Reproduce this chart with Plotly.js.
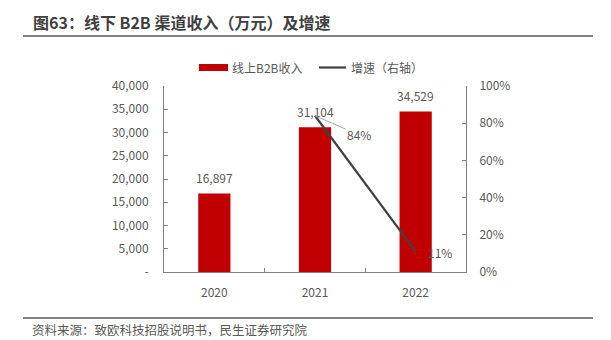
<!DOCTYPE html>
<html>
<head>
<meta charset="utf-8">
<script src="https://cdn.plot.ly/plotly-3.0.1.min.js"></script>
<style>html,body{margin:0;padding:0;background:#fff;}#chart{width:611px;height:340px;}</style>
</head>
<body>
<div id="chart"></div>
<script>
// ---- data ----
const years = ['2020', '2021', '2022'];
const revenue = [16897, 31104, 34529];          // 线上B2B收入 (万元)
const growth = [null, 0.84, 0.11];               // 增速 (右轴)
const leftTicks = [0, 5000, 10000, 15000, 20000, 25000, 30000, 35000, 40000];
const leftTickText = ['-', '5,000', '10,000', '15,000', '20,000', '25,000', '30,000', '35,000', '40,000'];
const titleText = '图63：线下 B2B 渠道收入（万元）及增速';
const sourceText = '资料来源：致欧科技招股说明书，民生证券研究院';
const barName = '线上B2B收入';
const lineName = '增速（右轴）';

// ---- layout helpers ----
const W = 611, H = 340;
const L = 164, R = 466, T = 86, B = 272;
const px2x = p => (p - L) / (R - L);
const px2y = p => (B - p) / (B - T);
const FONT = '"Noto Sans CJK SC", "Noto Sans", sans-serif';
const TXT = '#595959';

const fmt = v => v.toLocaleString('en-US');

const traces = [
  {
    type: 'bar', x: years, y: revenue, name: barName,
    marker: {color: '#C00000'}, width: 0.32, showlegend: false, hoverinfo: 'skip'
  },
  {
    type: 'scatter', mode: 'lines', x: years, y: growth, yaxis: 'y2', name: lineName,
    line: {color: '#404040', width: 2.2}, showlegend: false, hoverinfo: 'skip'
  }
];

const annotations = [];
// bar value labels (category axis -> serial index)
years.forEach((yr, i) => {
  annotations.push({
    x: i, y: revenue[i], xref: 'x', yref: 'y', text: fmt(revenue[i]),
    showarrow: false, yanchor: 'middle', yshift: 16,
    font: {family: FONT, size: 12, color: TXT}
  });
});
// growth labels
annotations.push({
  x: 1, y: growth[1], xref: 'x', yref: 'y2', text: Math.round(growth[1] * 100) + '%',
  showarrow: true, arrowhead: 0, arrowwidth: 1, arrowcolor: '#a6a6a6',
  ax: 44, ay: 19, standoff: 0,
  font: {family: FONT, size: 12, color: TXT}
});
annotations.push({
  x: 2, y: growth[2], xref: 'x', yref: 'y2', text: Math.round(growth[2] * 100) + '%',
  showarrow: false, xshift: 24, yshift: -1,
  font: {family: FONT, size: 12, color: TXT}
});
// title
annotations.push({
  xref: 'paper', yref: 'paper', x: px2x(31), y: px2y(22), xanchor: 'left', yanchor: 'middle',
  text: '<b>' + titleText + '</b>', showarrow: false,
  font: {family: FONT, size: 16, color: '#3f3f3f'}
});
// source
annotations.push({
  xref: 'paper', yref: 'paper', x: px2x(30), y: px2y(329), xanchor: 'left', yanchor: 'middle',
  text: sourceText, showarrow: false,
  font: {family: FONT, size: 12.5, color: TXT}
});
// legend texts
annotations.push({
  xref: 'paper', yref: 'paper', x: px2x(230), y: px2y(67.5), xanchor: 'left', yanchor: 'middle',
  text: barName, showarrow: false, font: {family: FONT, size: 12, color: TXT}
});
annotations.push({
  xref: 'paper', yref: 'paper', x: px2x(349), y: px2y(67.5), xanchor: 'left', yanchor: 'middle',
  text: lineName, showarrow: false, font: {family: FONT, size: 12, color: TXT}
});

const shapes = [
  // title rule
  {type: 'line', xref: 'paper', yref: 'paper', x0: px2x(23), x1: px2x(593), y0: px2y(36), y1: px2y(36),
   line: {color: '#595959', width: 1.5}},
  // source rule
  {type: 'line', xref: 'paper', yref: 'paper', x0: px2x(23), x1: px2x(593), y0: px2y(318), y1: px2y(318),
   line: {color: '#595959', width: 1.5}},
  // legend bar swatch
  {type: 'rect', xref: 'paper', yref: 'paper', x0: px2x(199), x1: px2x(228), y0: px2y(71), y1: px2y(64),
   fillcolor: '#C00000', line: {width: 0}},
  // legend line swatch
  {type: 'line', xref: 'paper', yref: 'paper', x0: px2x(319), x1: px2x(346), y0: px2y(67.5), y1: px2y(67.5),
   line: {color: '#404040', width: 2.2}}
];

const layout = {
  width: W, height: H, autosize: false,
  margin: {l: L, r: W - R, t: T, b: H - B, pad: 0},
  paper_bgcolor: '#fff', plot_bgcolor: '#fff',
  showlegend: false,
  font: {family: FONT, size: 12, color: TXT},
  xaxis: {
    type: 'category', range: [-0.5, 2.5], tickson: 'boundaries',
    ticks: 'inside', ticklen: 4, tickcolor: '#808080',
    showline: true, linecolor: '#808080', linewidth: 1, showgrid: false, zeroline: false,
    tickfont: {family: FONT, size: 12, color: TXT}, ticklabelstandoff: 10
  },
  yaxis: {
    range: [0, 40000], tickvals: leftTicks, ticktext: leftTickText,
    ticks: 'inside', ticklen: 4, tickcolor: '#808080',
    showline: true, linecolor: '#808080', linewidth: 1, showgrid: false, zeroline: false,
    tickfont: {family: FONT, size: 12, color: TXT}, ticklabelstandoff: 12
  },
  yaxis2: {
    overlaying: 'y', side: 'right', range: [0, 1], dtick: 0.2, tickformat: '.0%',
    ticks: 'inside', ticklen: 4, tickcolor: '#808080',
    showline: true, linecolor: '#808080', linewidth: 1, showgrid: false, zeroline: false,
    tickfont: {family: FONT, size: 12, color: TXT}, ticklabelstandoff: 10
  },
  annotations: annotations,
  shapes: shapes
};

Plotly.newPlot('chart', traces, layout, {staticPlot: true, displayModeBar: false});
</script>
</body>
</html>
